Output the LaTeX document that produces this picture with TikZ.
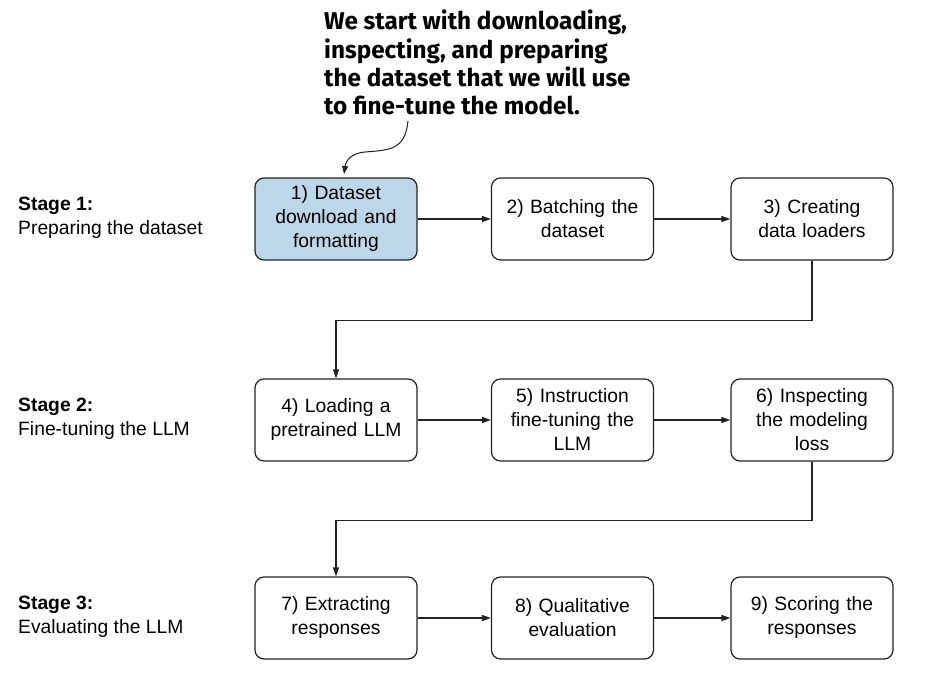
\documentclass[tikz,border=0pt]{standalone}
\usepackage{fontspec}
\setmainfont{Liberation Sans}
\newfontfamily\notefont{Fira Sans}
\usetikzlibrary{arrows.meta}
\definecolor{boxblue}{HTML}{BCD7EA}
\definecolor{linegray}{HTML}{222222}
\tikzset{
  stepbox/.style={draw=linegray, line width=1.2pt, rounded corners=9pt,
    minimum width=162pt, minimum height=82pt, align=center,
    font=\fontsize{19.3}{24}\selectfont, inner sep=2pt, text width=156pt},
  conn/.style={draw=linegray, line width=1.2pt, -{Triangle[length=9pt,width=6pt]}},
  stagelbl/.style={anchor=north west, align=left, inner sep=0pt,
    font=\fontsize{19.3}{23.5}\selectfont},
}
\begin{document}
\begin{tikzpicture}[x=1pt,y=-1pt]
\useasboundingbox (0,0) rectangle (939,682);
% boxes
\node[stepbox, fill=boxblue] (b1) at (336,219) {1) Dataset\\download and\\formatting};
\node[stepbox] (b2) at (572.5,219) {2) Batching the\\dataset};
\node[stepbox] (b3) at (812,219) {3) Creating\\data loaders};
\node[stepbox] (b4) at (336,420) {4) Loading a\\pretrained LLM};
\node[stepbox] (b5) at (572.5,420) {5) Instruction\\fine-tuning the\\LLM};
\node[stepbox] (b6) at (812,420) {6) Inspecting\\the modeling\\loss};
\node[stepbox] (b7) at (336,618) {7) Extracting\\responses};
\node[stepbox] (b8) at (572.5,618) {8) Qualitative\\evaluation};
\node[stepbox] (b9) at (812,618) {9) Scoring the\\responses};
% connectors
\draw[conn] (b1) -- (b2);
\draw[conn] (b2) -- (b3);
\draw[conn] (b4) -- (b5);
\draw[conn] (b5) -- (b6);
\draw[conn] (b7) -- (b8);
\draw[conn] (b8) -- (b9);
\draw[conn] (b3.south) -- ++(0,60) -| (b4.north);
\draw[conn] (b6.south) -- ++(0,59) -| (b7.north);
% stage labels
\node[stagelbl] (s1) at (18,197) {\textbf{Stage 1:}\\Preparing the dataset};
\node[stagelbl] (s2) at (18,398) {\textbf{Stage 2:}\\Fine-tuning the LLM};
\node[stagelbl] (s3) at (18,596) {\textbf{Stage 3:}\\Evaluating the LLM};
% annotation
\node[anchor=north west, align=left, inner sep=0pt,
  font=\notefont\bfseries\fontsize{24.3}{28.2}\selectfont] (note) at (324,10)
  {We start with downloading,\\inspecting, and preparing\\the dataset that we will use\\to fine-tune the model.};
\coordinate (ns) at (408,121);
\draw[draw=linegray, line width=1pt, -{Triangle[length=8pt,width=6pt]}]
  (ns) .. controls (405,150) and (390,150) .. (365,152) .. controls (352,153) and (346,160) .. (344,174);
\end{tikzpicture}
\end{document}
